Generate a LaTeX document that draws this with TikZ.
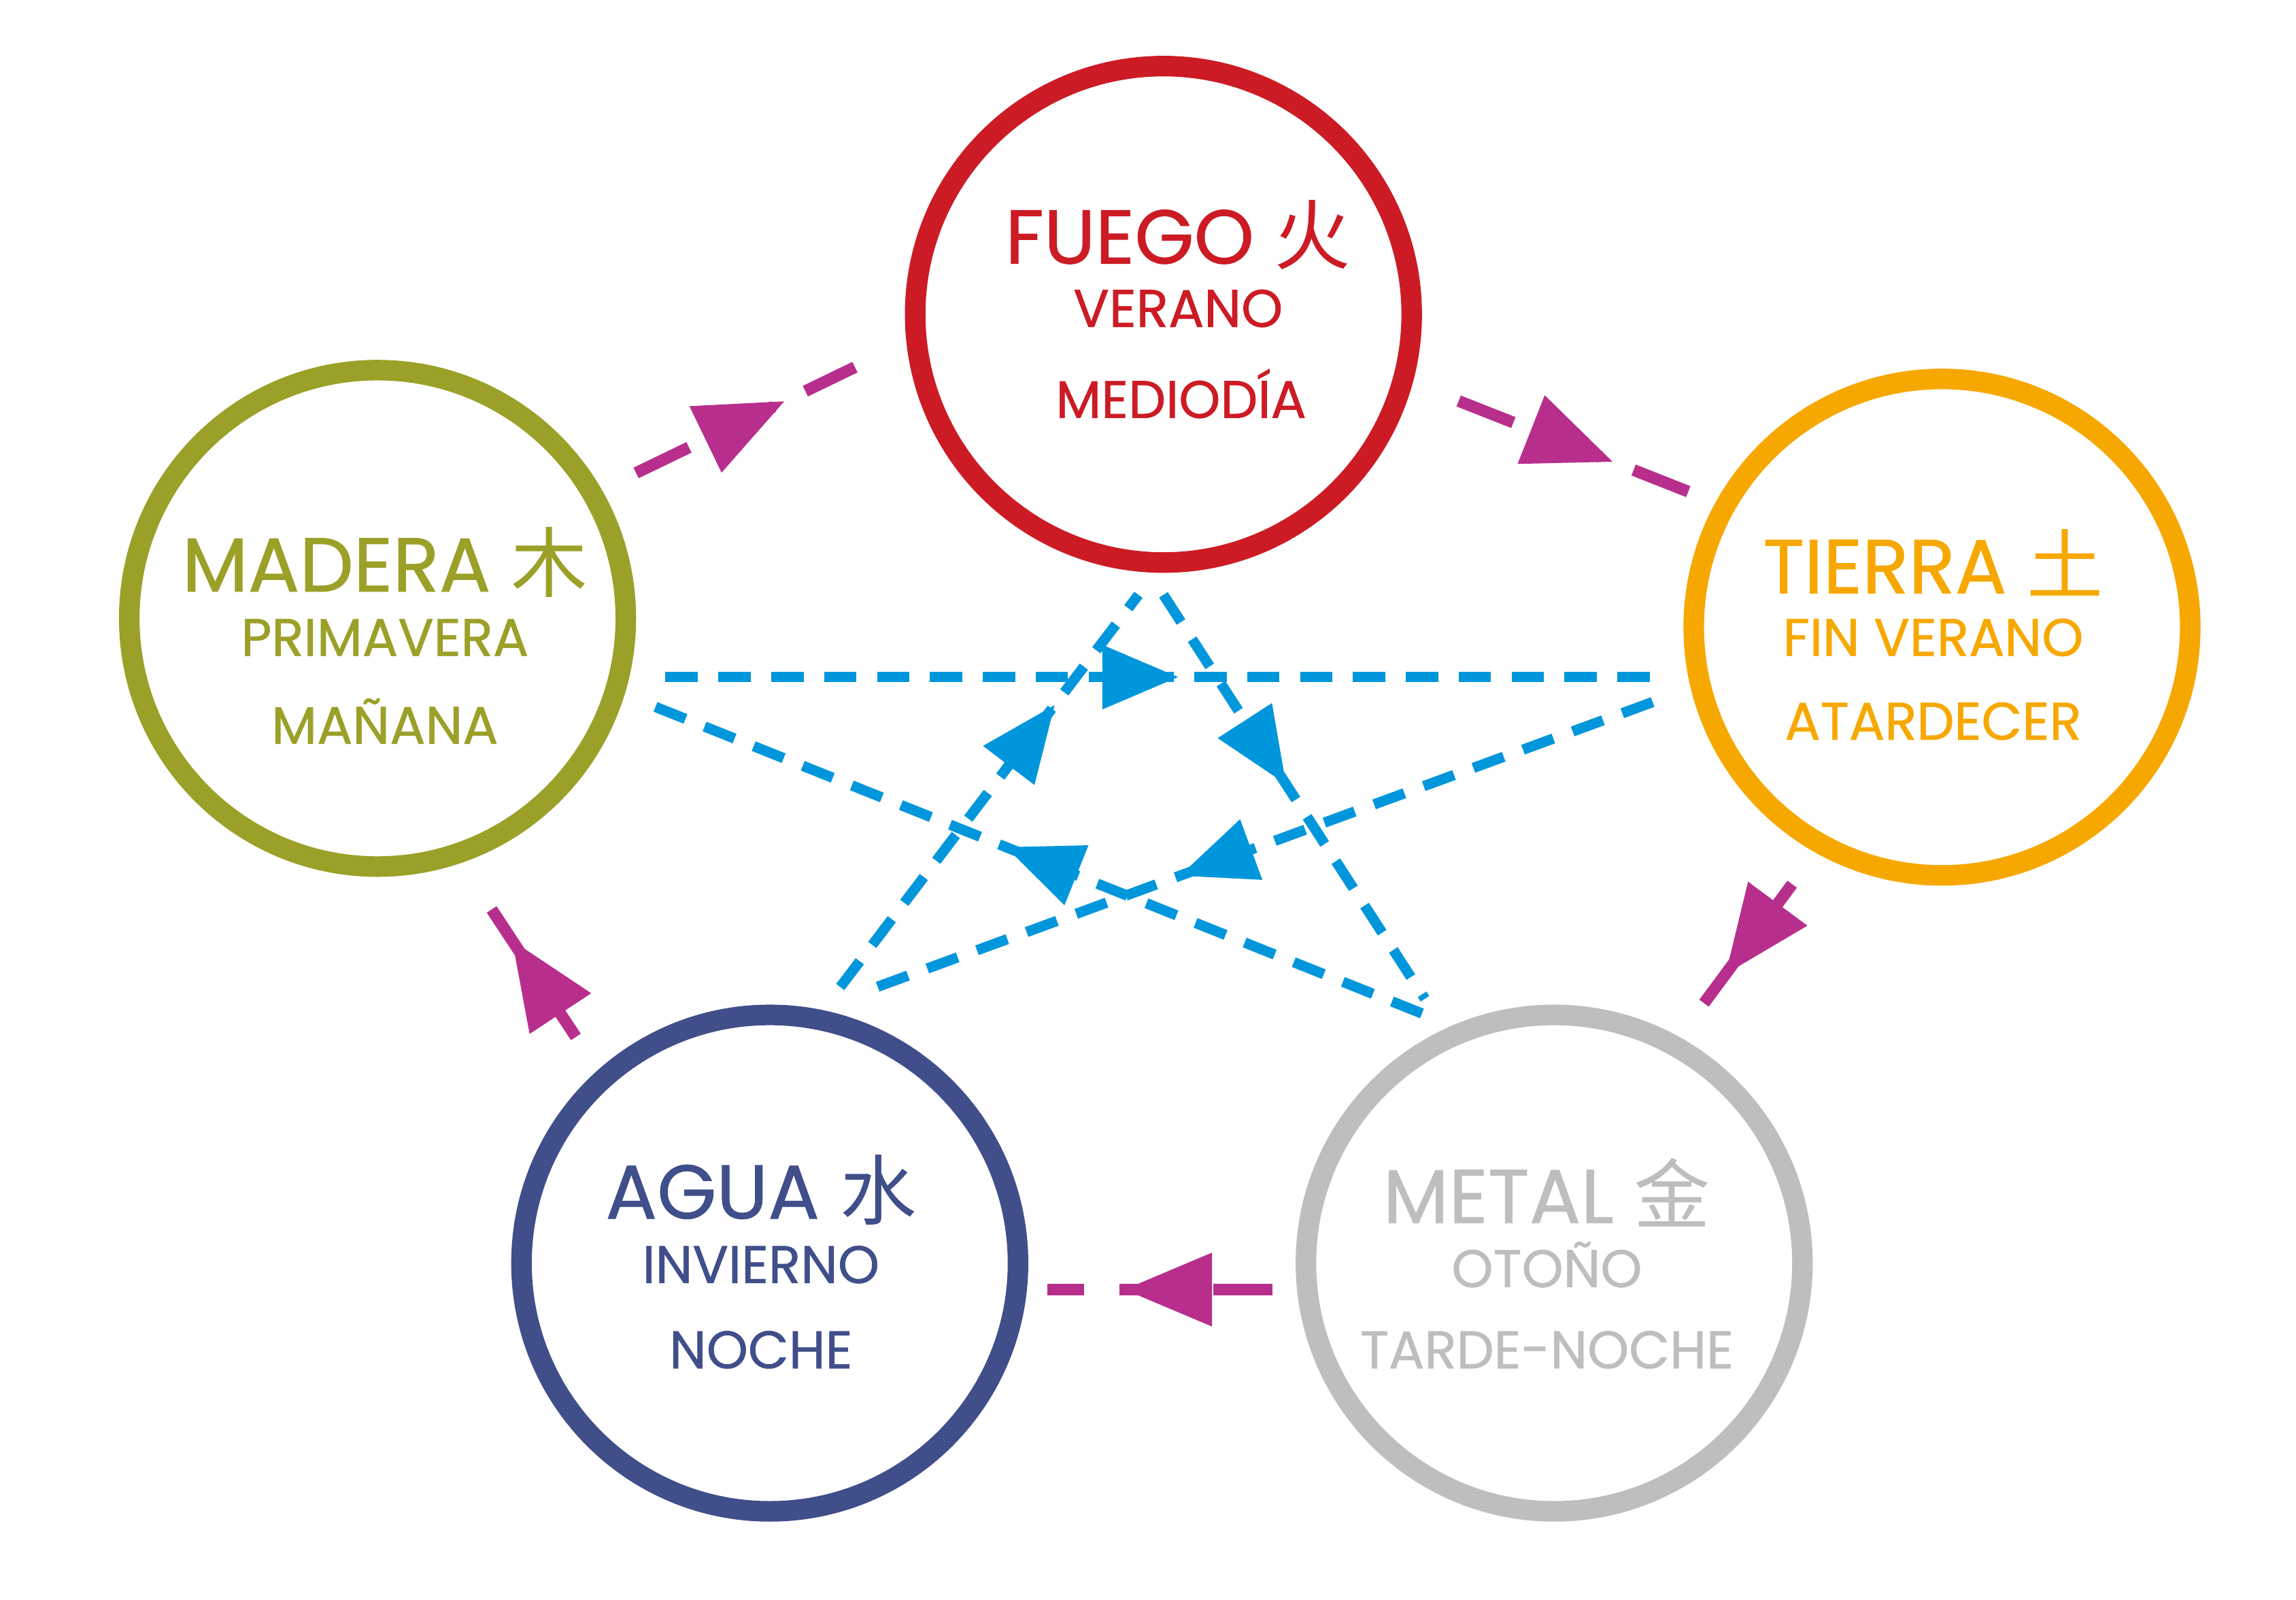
\documentclass[tikz,border=0pt]{standalone}
\usepackage{fontspec}
\setmainfont{Poppins}[FakeBold=0.8,AutoFakeBold=0.8]
\newfontfamily\cjk{Noto Sans CJK SC}
\usetikzlibrary{decorations.markings,arrows.meta}
\definecolor{fuego}{RGB}{204,27,36}
\definecolor{madera}{RGB}{155,160,40}
\definecolor{tierra}{RGB}{247,168,0}
\definecolor{agua}{RGB}{64,78,138}
\definecolor{metal}{RGB}{190,190,190}
\definecolor{sheng}{RGB}{184,46,140}
\definecolor{ke}{RGB}{0,150,220}
\tikzset{
  elem/.style={circle,draw=#1,line width=7pt,minimum size=169pt,inner sep=0pt},
  tit/.style={text=#1,font=\bfseries\fontsize{26}{29}\selectfont},
  sub/.style={text=#1,font=\bfseries\fontsize{18}{21}\selectfont},
  gen/.style={draw=sheng,line width=4pt,dash pattern=on 20pt off 12pt,
    postaction={decorate},decoration={markings,
    mark=at position #1 with {\arrow[sheng]{Triangle[length=30pt,width=24pt]}}}},
  ctl/.style={draw=ke,line width=3.5pt,dash pattern=on 11pt off 7pt,
    postaction={decorate},decoration={markings,
    mark=at position #1 with {\arrow[ke]{Triangle[length=26pt,width=21pt]}}}},
}
\begin{document}
\begin{tikzpicture}[x=0.5pt,y=0.5pt,yscale=-1]
\useasboundingbox (0,0) rectangle (1563,1089);

% circles
\node[elem=fuego] (fu) at (792,214) {};
\node[elem=madera] (ma) at (257,421) {};
\node[elem=tierra] (ti) at (1322,427) {};
\node[elem=agua] (ag) at (524,860) {};
\node[elem=metal] (me) at (1058,860) {};

% texts
\node[tit=fuego] (fu1) at (802,160) {FUEGO {\mdseries\cjk 火}};
\node[sub=fuego] (fu2) at (802,210) {VERANO};
\node[sub=fuego] (fu3) at (804,268) {MEDIODÍA};
\node[tit=madera] (ma1) at (262,383) {MADERA {\mdseries\cjk 木}};
\node[sub=madera] (ma2) at (262,434) {PRIMAVERA};
\node[sub=madera] (ma3) at (262,491) {MAÑANA};
\node[tit=tierra] (ti1) at (1316,383) {TIERRA {\mdseries\cjk 土}};
\node[sub=tierra] (ti2) at (1316,434) {FIN VERANO};
\node[sub=tierra] (ti3) at (1316,491) {ATARDECER};
\node[tit=agua] (ag1) at (518,810) {AGUA {\mdseries\cjk 水}};
\node[sub=agua] (ag2) at (518,861) {INVIERNO};
\node[sub=agua] (ag3) at (518,919) {NOCHE};
\node[tit=metal] (me1) at (1053,812) {METAL {\mdseries\cjk 金}};
\node[sub=metal] (me2) at (1053,861) {OTOÑO};
\node[sub=metal] (me3) at (1053,919) {TARDE-NOCHE};

% end points
\coordinate (g1a) at (433,322); \coordinate (g1b) at (582,250);
\coordinate (g2a) at (993,273); \coordinate (g2b) at (1150,335);
\coordinate (g3a) at (1220,602); \coordinate (g3b) at (1160,683);
\coordinate (g4a) at (866,878); \coordinate (g4b) at (713,878);
\coordinate (g5a) at (392,706); \coordinate (g5b) at (326,606);
\coordinate (c1a) at (453,461); \coordinate (c1b) at (1125,461);
\coordinate (c2a) at (1125,478); \coordinate (c2b) at (597,672);
\coordinate (c3a) at (572,672); \coordinate (c3b) at (775,405);
\coordinate (c4a) at (792,405); \coordinate (c4b) at (970,680);
\coordinate (c5a) at (968,690); \coordinate (c5b) at (443,480);

% control cycle
\path[ctl=0.52] (c1a) -- (c1b);
\path[ctl=0.61] (c2a) -- (c2b);
\path[ctl=0.72] (c3a) -- (c3b);
\path[ctl=0.47] (c4a) -- (c4b);
\path[ctl=0.54] (c5a) -- (c5b);

% generation cycle
\path[gen=0.68] (g1a) -- (g1b);
\path[gen=0.67] (g2a) -- (g2b);
\path[gen=0.76] (g3a) -- (g3b);
\path[gen=0.66] (g4a) -- (g4b);
\path[gen=0.66] (g5a) -- (g5b);
\end{tikzpicture}
\end{document}
